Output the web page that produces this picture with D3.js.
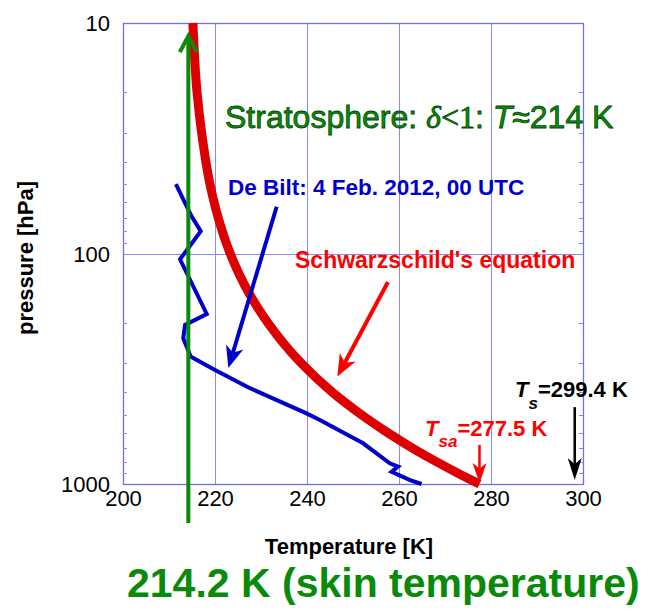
<!DOCTYPE html>
<html>
<head>
<meta charset="utf-8">
<script src="https://cdn.jsdelivr.net/npm/d3@7"></script>
<style>
  body { margin: 0; background: #fff; }
  text { font-family: "Liberation Sans", Arial, Helvetica, sans-serif; }
</style>
</head>
<body>
<div id="chart"></div>
<script>
// Radiative profile chart: De Bilt sounding vs Schwarzschild's equation

const FRAME_WIDTH = 663;
const FRAME_HEIGHT = 610;
const MARGINS = {left: 123, top: 23, right: 80, bottom: 126};

const VIS_WIDTH = FRAME_WIDTH - MARGINS.left - MARGINS.right;
const VIS_HEIGHT = FRAME_HEIGHT - MARGINS.top - MARGINS.bottom;

// tick labels
const TEMP_TICKS = [200, 220, 240, 260, 280, 300];
const PRESSURE_TICKS = [10, 100, 1000];
const PRESSURE_MINOR = [20, 30, 40, 50, 60, 70, 80, 90, 200, 300, 400, 500, 600, 700, 800, 900];

// De Bilt sounding, 4 Feb 2012 00 UTC
const SOUNDING_P = [50, 69, 80, 106, 183, 204, 233, 280, 320, 384, 494, 528, 666, 813, 841, 885, 961, 1000];
const SOUNDING_T = [211.5, 214.9, 216.9, 212.4, 218.2, 213.5, 213.1, 214.7, 220.0, 227.6, 239.9, 242.8, 252.2, 258.0, 259.8, 258.4, 262.4, 264.9];

// Schwarzschild's equation profile
const SCHWARZ_P = [10, 20, 30, 50, 70, 100, 150, 200, 300, 400, 500, 600, 700, 800, 900, 1000];
const SCHWARZ_T = [215.2, 216.1, 217.1, 218.9, 220.7, 223.3, 227.5, 231.5, 238.8, 245.5, 251.8, 257.6, 263.0, 268.1, 272.9, 277.5];

const SKIN_T = 214.2;
const SURFACE_AIR_T = 277.5;
const SURFACE_T = 299.4;

const FRAME = d3.select("#chart")
                .append("svg")
                  .attr("width", FRAME_WIDTH)
                  .attr("height", FRAME_HEIGHT);

const X_SCALE = d3.scaleLinear()
                  .domain([200, 300])
                  .range([MARGINS.left, MARGINS.left + VIS_WIDTH]);

const Y_SCALE = d3.scaleLog()
                  .domain([10, 1000])
                  .range([MARGINS.top, MARGINS.top + VIS_HEIGHT]);

const GRID = "#8a8aee";

// grid lines, half-pixel offset so they stay crisp
FRAME.selectAll(".vgrid")
    .data([220, 240, 260, 280])
    .enter()
    .append("line")
      .attr("x1", (d) => Math.round(X_SCALE(d)) + 0.5)
      .attr("x2", (d) => Math.round(X_SCALE(d)) + 0.5)
      .attr("y1", Y_SCALE(10))
      .attr("y2", Y_SCALE(1000))
      .attr("stroke", GRID)
      .attr("stroke-width", 1);

FRAME.append("line")
      .attr("x1", X_SCALE(200))
      .attr("x2", X_SCALE(300))
      .attr("y1", Math.round(Y_SCALE(100)) + 0.5)
      .attr("y2", Math.round(Y_SCALE(100)) + 0.5)
      .attr("stroke", GRID);

// frame
FRAME.append("rect")
      .attr("x", Math.round(X_SCALE(200)) + 0.5)
      .attr("y", Math.round(Y_SCALE(10)) + 0.5)
      .attr("width", Math.round(VIS_WIDTH))
      .attr("height", Math.round(VIS_HEIGHT))
      .attr("fill", "none")
      .attr("stroke", "#7070e6")
      .attr("stroke-width", 1.3);

// minor ticks, inward on both sides
[X_SCALE(200), X_SCALE(300)].forEach((x0, i) => {
  const dir = i === 0 ? 1 : -1;
  FRAME.selectAll(".mt" + i)
      .data(PRESSURE_MINOR)
      .enter()
      .append("line")
        .attr("x1", x0)
        .attr("x2", x0 + dir * 4)
        .attr("y1", (d) => Math.round(Y_SCALE(d)) + 0.5)
        .attr("y2", (d) => Math.round(Y_SCALE(d)) + 0.5)
        .attr("stroke", GRID)
        .attr("stroke-width", 1);
});

// axes (labels only)
const X_AXIS = FRAME.append("g")
      .attr("transform", "translate(0," + (MARGINS.top + VIS_HEIGHT) + ")")
      .call(d3.axisBottom(X_SCALE).tickValues(TEMP_TICKS).tickSize(0).tickPadding(6));

const Y_AXIS = FRAME.append("g")
      .attr("transform", "translate(" + MARGINS.left + ",0)")
      .call(d3.axisLeft(Y_SCALE).tickValues(PRESSURE_TICKS).tickFormat(d3.format("d")).tickSize(0).tickPadding(13));

[X_AXIS, Y_AXIS].forEach((ax) => {
  ax.select(".domain").remove();
  ax.selectAll("text")
      .attr("font-family", "Liberation Sans, Arial, sans-serif")
      .attr("font-size", "22px")
      .attr("fill", "#000");
});
Y_AXIS.selectAll("text").attr("dy", "0.36em");

// axis titles
FRAME.append("text")
      .attr("x", 349)
      .attr("y", 554)
      .attr("text-anchor", "middle")
      .attr("font-size", "22px")
      .attr("font-weight", "bold")
      .text("Temperature [K]");

FRAME.append("text")
      .attr("transform", "translate(33,258) rotate(-90)")
      .attr("text-anchor", "middle")
      .attr("font-size", "22px")
      .attr("font-weight", "bold")
      .text("pressure [hPa]");

// arrow helper: shaft plus notched filled head
function arrow(t0, p0, t1, p1, color, width, headLen, headHalf) {
  const x0 = X_SCALE(t0), y0 = Y_SCALE(p0);
  const x1 = X_SCALE(t1), y1 = Y_SCALE(p1);
  const ang = Math.atan2(y1 - y0, x1 - x0);
  const ux = Math.cos(ang), uy = Math.sin(ang);
  const nx = -uy, ny = ux;
  FRAME.append("line")
      .attr("x1", x0).attr("y1", y0)
      .attr("x2", x1 - ux * headLen * 0.7).attr("y2", y1 - uy * headLen * 0.7)
      .attr("stroke", color)
      .attr("stroke-width", width);
  const bx = x1 - ux * headLen, by = y1 - uy * headLen;
  const nxp = x1 - ux * headLen * 0.72, nyp = y1 - uy * headLen * 0.72;
  const pts = [[x1, y1],
               [bx + nx * headHalf, by + ny * headHalf],
               [nxp, nyp],
               [bx - nx * headHalf, by - ny * headHalf]];
  FRAME.append("path")
      .attr("d", "M" + pts.map((p) => p.join(",")).join("L") + "Z")
      .attr("fill", color);
}

// Schwarzschild's equation curve
const SCHWARZ = SCHWARZ_P.map((p, i) => ({p: p, t: SCHWARZ_T[i]}));
FRAME.append("path")
      .datum(SCHWARZ)
      .attr("d", d3.line().x((d) => X_SCALE(d.t)).y((d) => Y_SCALE(d.p)).curve(d3.curveMonotoneY))
      .attr("fill", "none")
      .attr("stroke", "#dd0000")
      .attr("stroke-width", 9);

// sounding
const SOUNDING = SOUNDING_P.map((p, i) => ({p: p, t: SOUNDING_T[i]}));
FRAME.append("path")
      .datum(SOUNDING)
      .attr("d", d3.line().x((d) => X_SCALE(d.t)).y((d) => Y_SCALE(d.p)))
      .attr("fill", "none")
      .attr("stroke", "#0000cc")
      .attr("stroke-width", 4)
      .attr("stroke-linejoin", "miter");

// skin temperature arrow (green, open head)
const GREEN = "#0a8a0a";
FRAME.append("line")
      .attr("x1", X_SCALE(SKIN_T)).attr("x2", X_SCALE(SKIN_T))
      .attr("y1", 523).attr("y2", Y_SCALE(11.4))
      .attr("stroke", GREEN)
      .attr("stroke-width", 4);
FRAME.append("path")
      .attr("d", "M" + (X_SCALE(SKIN_T) - 8.5) + "," + (Y_SCALE(11.4) + 16) +
                 "L" + X_SCALE(SKIN_T) + "," + Y_SCALE(11.4) +
                 "L" + (X_SCALE(SKIN_T) + 8.5) + "," + (Y_SCALE(11.4) + 16))
      .attr("fill", "none")
      .attr("stroke", GREEN)
      .attr("stroke-width", 4);

// annotation arrows
arrow(233.4, 62.7, 222.9, 314, "#0000cc", 4, 22, 9);
arrow(257.6, 133, 246.6, 342, "#ff0000", 4, 22, 9);
arrow(SURFACE_AIR_T, 677, SURFACE_AIR_T, 990, "#ff0000", 2.5, 20, 7);
arrow(298.2, 464, 298.2, 961, "#000000", 2.5, 22, 7);

// text annotations
FRAME.append("text")
      .attr("x", 225).attr("y", 128)
      .attr("font-size", "32px")
      .attr("fill", GREEN)
      .attr("stroke", "#004a00")
      .attr("stroke-width", 0.8)
      .call((t) => {
        t.append("tspan").text("Stratosphere: ");
        t.append("tspan").attr("font-style", "italic").attr("font-family", "Liberation Serif, serif").text("δ");
        t.append("tspan").attr("font-family", "Liberation Serif, serif").text("<1");
        t.append("tspan").text(": ");
        t.append("tspan").attr("font-style", "italic").text("T");
        t.append("tspan").text("≈214 K");
      });

FRAME.append("text")
      .attr("x", 228).attr("y", 195)
      .attr("font-size", "22.5px")
      .attr("font-weight", "bold")
      .attr("fill", "#0000cc")
      .text("De Bilt: 4 Feb. 2012, 00 UTC");

FRAME.append("text")
      .attr("x", 295).attr("y", 268)
      .attr("font-size", "23px")
      .attr("font-weight", "bold")
      .attr("fill", "#ff0000")
      .text("Schwarzschild's equation");

FRAME.append("text")
      .attr("x", 425).attr("y", 436)
      .attr("font-size", "22px")
      .attr("font-weight", "bold")
      .attr("fill", "#ff0000")
      .call((t) => {
        t.append("tspan").attr("font-style", "italic").text("T");
        t.append("tspan").attr("font-style", "italic").attr("font-size", "17px").attr("dy", 11).text("sa");
        t.append("tspan").attr("dy", -11).text("=" + SURFACE_AIR_T + " K");
      });

FRAME.append("text")
      .attr("x", 515).attr("y", 397)
      .attr("font-size", "22px")
      .attr("font-weight", "bold")
      .attr("fill", "#000")
      .call((t) => {
        t.append("tspan").attr("font-style", "italic").text("T");
        t.append("tspan").attr("font-style", "italic").attr("font-size", "17px").attr("dy", 12).text("s");
        t.append("tspan").attr("dy", -12).text("=" + SURFACE_T + " K");
      });

FRAME.append("text")
      .attr("x", 127).attr("y", 597)
      .attr("font-size", "41px")
      .attr("font-weight", "bold")
      .attr("fill", GREEN)
      .text(SKIN_T + " K (skin temperature)");
</script>
</body>
</html>
